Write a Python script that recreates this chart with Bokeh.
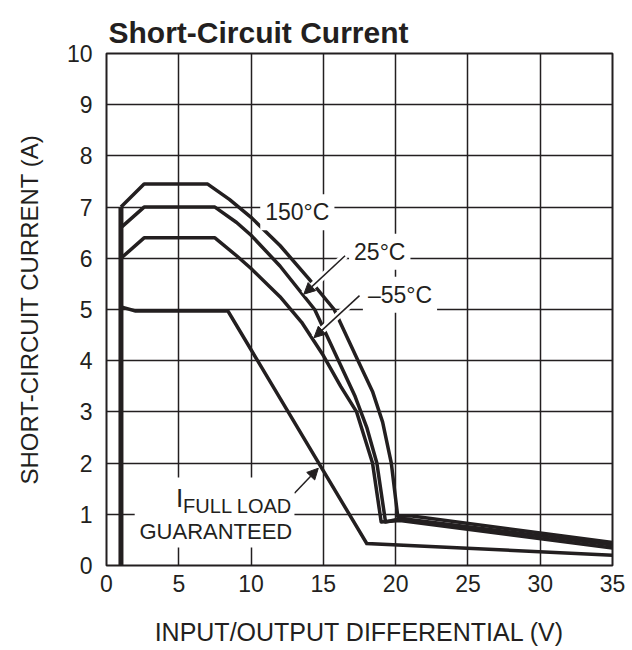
from bokeh.plotting import figure
from bokeh.models import Range1d, Label, Arrow, NormalHead, BoxAnnotation
from bokeh.embed import file_html
from bokeh.resources import INLINE

# ---- data ----
x_ticks = [0, 5, 10, 15, 20, 25, 30, 35]
y_ticks = [0, 1, 2, 3, 4, 5, 6, 7, 8, 9, 10]

x_150 = [1.0, 2.6, 7.0, 8.5, 10.0, 12.0, 14.0, 15.75, 17.4, 18.4, 19.1, 19.7, 20.15, 21.0, 35.0]
y_150 = [7.0, 7.45, 7.45, 7.15, 6.8, 6.25, 5.6, 5.0, 4.0, 3.4, 2.8, 2.0, 0.95, 0.97, 0.45]

x_25 = [1.0, 2.6, 7.5, 9.0, 10.0, 12.0, 14.4, 16.05, 17.2, 18.0, 18.7, 19.3, 20.4, 35.0]
y_25 = [6.6, 7.0, 7.0, 6.7, 6.45, 5.85, 5.0, 4.0, 3.3, 2.7, 2.0, 0.85, 0.92, 0.4]

x_m55 = [1.0, 2.6, 7.5, 9.0, 10.0, 12.0, 13.5, 15.0, 16.2, 17.3, 18.4, 19.0, 20.3, 35.0]
y_m55 = [6.0, 6.4, 6.4, 6.05, 5.8, 5.25, 4.75, 4.1, 3.5, 3.0, 2.0, 0.85, 0.88, 0.34]

x_full = [1.0, 2.0, 8.4, 18.0, 35.0]
y_full = [5.05, 4.97, 4.97, 0.43, 0.2]

x_vert = [1.0, 1.0]
y_vert = [0.0, 7.0]

INK = "#231f20"
FONT = "Liberation Sans"

p = figure(frame_width=506, frame_height=512,
           x_range=Range1d(0, 35), y_range=Range1d(0, 10),
           output_backend="svg", toolbar_location=None,
           min_border_left=106, min_border_right=14,
           min_border_top=53, min_border_bottom=83,
           title="Short-Circuit Current")

p.background_fill_color = "white"
p.border_fill_color = "white"
p.outline_line_color = INK
p.outline_line_width = 2
p.outline_line_alpha = 1

p.title.text_font = FONT
p.title.text_font_style = "bold"
p.title.text_font_size = "30px"
p.title.text_color = INK
p.title.align = "left"
p.title.offset = 2
p.title.standoff = 10

for ax in (p.xaxis[0], p.yaxis[0]):
    ax.axis_line_color = None
    ax.major_tick_line_color = None
    ax.minor_tick_line_color = None
    ax.major_tick_out = 0
    ax.major_tick_in = 0
    ax.minor_tick_out = 0
    ax.minor_tick_in = 0
    ax.major_label_text_font = FONT
    ax.major_label_text_font_size = "23px"
    ax.major_label_text_color = INK
    ax.axis_label_text_font = FONT
    ax.axis_label_text_font_style = "normal"
    ax.axis_label_text_color = INK

p.xaxis.ticker = x_ticks
p.yaxis.ticker = y_ticks
p.xaxis.axis_label = "INPUT/OUTPUT DIFFERENTIAL (V)"
p.yaxis.axis_label = "SHORT-CIRCUIT CURRENT (A)"
p.xaxis.axis_label_text_font_size = "25px"
p.yaxis.axis_label_text_font_size = "24px"
p.xaxis.major_label_standoff = 9
p.yaxis.major_label_standoff = 14
p.xaxis.axis_label_standoff = 23
p.yaxis.axis_label_standoff = 21

for g in (p.xgrid[0], p.ygrid[0]):
    g.grid_line_color = INK
    g.grid_line_width = 1.5
    g.grid_line_alpha = 1

# ---- curves ----
p.line(x_vert, y_vert, line_color=INK, line_width=5)
p.line(x_full, y_full, line_color=INK, line_width=3.5, line_join="miter")
p.line(x_m55, y_m55, line_color=INK, line_width=3.5, line_join="round")
p.line(x_25, y_25, line_color=INK, line_width=3.5, line_join="round")
p.line(x_150, y_150, line_color=INK, line_width=3.5, line_join="round")

# ---- arrows with white halos ----
arrows = [
    (16.5, 6.05, 13.65, 5.3),
    (17.5, 5.27, 14.35, 4.45),
    (13.0, 1.41, 14.65, 1.9),
]
for xs, ys, xe, ye in arrows[:2]:
    p.add_layout(Arrow(x_start=xs, y_start=ys, x_end=xe, y_end=ye, end=None,
                       line_color="white", line_width=7))
for xs, ys, xe, ye in arrows:
    p.add_layout(Arrow(x_start=xs, y_start=ys, x_end=xe, y_end=ye,
                       end=NormalHead(size=11, fill_color=INK, line_color=INK, line_width=1),
                       line_color=INK, line_width=1.5))

# white area behind the full-load note
p.add_layout(BoxAnnotation(left=1.95, right=13.0, bottom=0.35, top=1.72,
                           fill_color="white", fill_alpha=1, line_color=None))

# ---- labels ----
def lab(x, y, text, size, align="center", bg=True):
    kw = dict(background_fill_color="white", background_fill_alpha=1, padding=5) if bg else {}
    p.add_layout(Label(x=x, y=y, text=text, text_font=FONT, text_font_size=size,
                       text_color=INK, text_align=align, text_baseline="middle", **kw))

lab(13.2, 6.9, "150°C", "23px")
lab(18.9, 6.13, "25°C", "23px")
lab(20.3, 5.29, "–55°C", "23px")
lab(2.28, 0.66, "GUARANTEED", "22px", "left", bg=False)
lab(4.8, 1.32, "I", "26px", "left", bg=False)
lab(5.3, 1.17, "FULL LOAD", "20px", "left", bg=False)

open("out.html", "w").write(file_html(p, INLINE))
